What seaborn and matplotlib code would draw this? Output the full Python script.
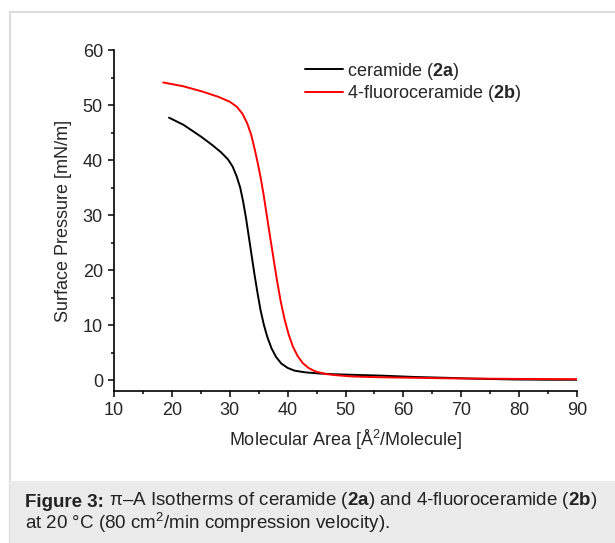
import numpy as np
import pandas as pd
import matplotlib
matplotlib.use("Agg")
import matplotlib.pyplot as plt
import seaborn as sns
from matplotlib.lines import Line2D
from matplotlib.patches import Rectangle
from matplotlib.ticker import MultipleLocator

sns.set_style("ticks")
plt.rcParams['font.family'] = ['Liberation Sans', 'DejaVu Sans']
plt.rcParams['mathtext.fontset'] = 'custom'
plt.rcParams['mathtext.rm'] = 'Liberation Sans'
plt.rcParams['mathtext.bf'] = 'Liberation Sans:bold'
plt.rcParams['mathtext.it'] = 'Liberation Sans:italic'
plt.rcParams['mathtext.default'] = 'regular'

# pi-A isotherm, ceramide (2a)
area_2a = [19.5, 22, 25.1, 27, 28.5, 29.7, 30.5, 31.2, 31.8, 32.3, 32.8, 33.3, 33.8,
           34.3, 34.8, 35.3, 35.9, 36.5, 37.2, 38.0, 38.9, 40, 41.2, 43, 45.3, 48, 51,
           56, 62, 67.5, 72, 79, 85, 90]
pres_2a = [47.7, 46.4, 44.2, 42.7, 41.4, 40.1, 38.8, 37.0, 35.0, 32.5, 29.5, 26.0, 22.5,
           19.0, 15.8, 12.8, 10.0, 7.8, 5.8, 4.2, 3.0, 2.2, 1.7, 1.4, 1.2, 1.05, 0.95,
           0.8, 0.55, 0.4, 0.25, 0.1, 0.05, 0.05]

# pi-A isotherm, 4-fluoroceramide (2b)
area_2b = [18.5, 22, 25.1, 28, 30, 31.2, 32.2, 33.0, 33.7, 34.3, 34.8, 35.3, 35.8, 36.3,
           36.9, 37.5, 38.1, 38.8, 39.5, 40.2, 40.9, 41.7, 42.6, 43.6, 44.7, 46.5, 48.1,
           51, 56, 62, 68, 74, 80, 90]
pres_2b = [54.1, 53.4, 52.5, 51.5, 50.6, 49.7, 48.4, 46.7, 44.6, 42.0, 39.6, 37.0, 34.0, 30.6,
           26.5, 22.5, 18.5, 14.3, 10.9, 8.2, 6.1, 4.4, 3.1, 2.2, 1.6, 1.1, 0.9,
           0.65, 0.5, 0.4, 0.3, 0.25, 0.2, 0.15]

label_2a = r"ceramide ($\mathbf{2a}$)"
label_2b = r"4-fluoroceramide ($\mathbf{2b}$)"

df = pd.concat([
    pd.DataFrame({"area": area_2a, "pressure": pres_2a, "compound": label_2a}),
    pd.DataFrame({"area": area_2b, "pressure": pres_2b, "compound": label_2b}),
], ignore_index=True)

fig = plt.figure(figsize=(6.15, 5.43), dpi=100)
ax = fig.add_axes([0.1854, 0.2799, 0.7528, 0.628])

sns.lineplot(data=df, x="area", y="pressure", hue="compound",
             palette={label_2a: "black", label_2b: "#ff0000"},
             linewidth=1.4, ax=ax)

ax.set_xlim(10, 90)
ax.set_ylim(-2, 60)
ax.xaxis.set_major_locator(MultipleLocator(10))
ax.xaxis.set_minor_locator(MultipleLocator(5))
ax.yaxis.set_major_locator(MultipleLocator(10))
ax.yaxis.set_minor_locator(MultipleLocator(5))
ax.tick_params(which="major", length=4.5, width=1.1, labelsize=13, color="black", pad=3.5)
ax.tick_params(which="minor", length=2.5, width=1.1, color="black")
sns.despine(ax=ax)
for s in ["left", "bottom"]:
    ax.spines[s].set_linewidth(1.2)
    ax.spines[s].set_color("black")

ax.set_xlabel(r"Molecular Area [Å$^2$/Molecule]", fontsize=13, labelpad=6.5)
ax.set_ylabel("Surface Pressure [mN/m]", fontsize=13, labelpad=8)

ax.legend(title=None, frameon=False, fontsize=13, loc="upper left",
          bbox_to_anchor=(0.397, 0.99), handlelength=2.1, handletextpad=0.25,
          labelspacing=0.1, borderaxespad=0)

# page frame and caption box (behind the axes)
fig.add_artist(Line2D([10 / 615, 10 / 615], [0, 1 - 12 / 543], transform=fig.transFigure,
                      color="#dcdcdc", linewidth=1.5, zorder=-2))
fig.add_artist(Line2D([10 / 615, 1], [1 - 12 / 543, 1 - 12 / 543], transform=fig.transFigure,
                      color="#dcdcdc", linewidth=1.5, zorder=-2))
fig.add_artist(Rectangle((10 / 615, 0), 1, 62 / 543, transform=fig.transFigure,
                         facecolor="#ebebeb", edgecolor="none", zorder=-1))

head = fig.text(25 / 615, 1 - 507 / 543, "Figure 3:", fontsize=13.5, fontweight="bold",
                va="baseline", ha="left", color="#222222")
ax.annotate(r" π–A Isotherms of ceramide ($\mathbf{2a}$) and 4-fluoroceramide ($\mathbf{2b}$)",
            xy=(1, 0), xycoords=head, va="bottom", ha="left",
            fontsize=13.5, color="#222222", annotation_clip=False)
fig.text(25 / 615, 1 - 529 / 543,
         r"at 20 °C (80 cm$^2$/min compression velocity).",
         fontsize=13.5, va="baseline", ha="left", color="#222222")

fig.savefig("out.png", dpi=100)
